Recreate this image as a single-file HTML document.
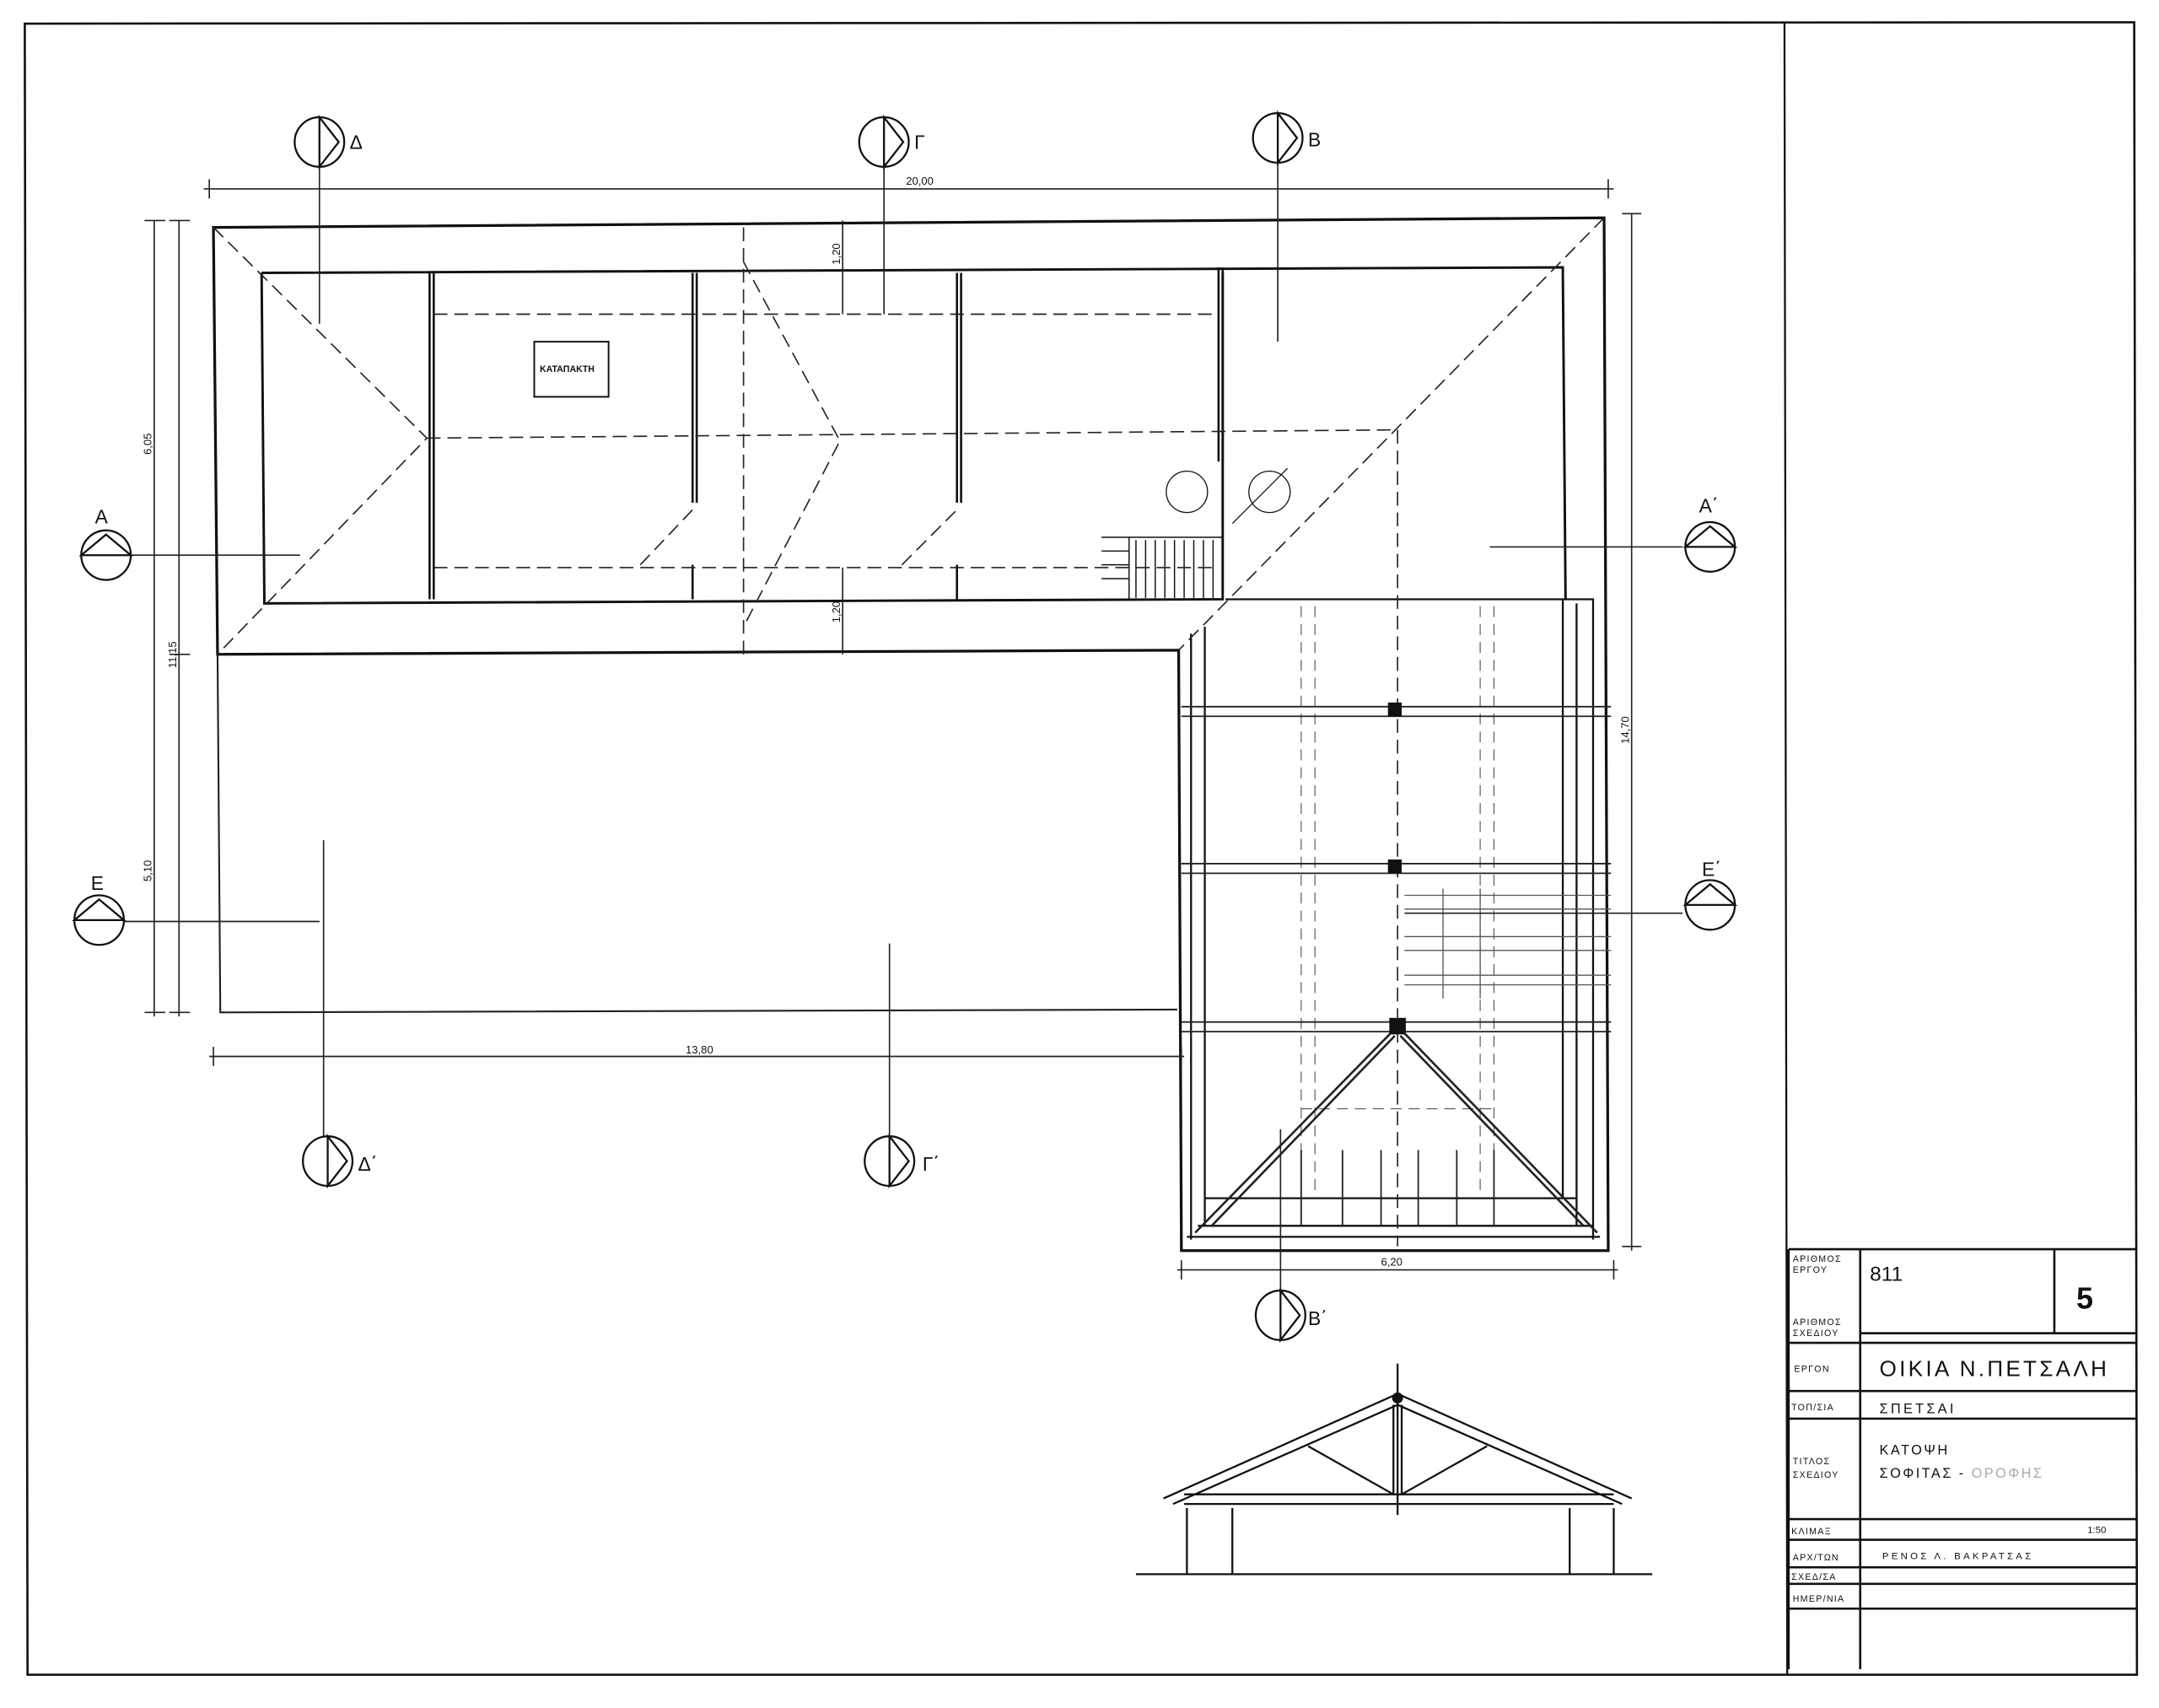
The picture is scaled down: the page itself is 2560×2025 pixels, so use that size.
<!DOCTYPE html>
<html><head><meta charset="utf-8"><style>
html,body{margin:0;padding:0;background:#fff}
svg{display:block}
text{font-family:"Liberation Sans","DejaVu Sans",sans-serif;fill:#111}
</style></head><body>
<svg width="2560" height="2025" viewBox="0 0 1568 1240" xmlns="http://www.w3.org/2000/svg">
<rect width="1568" height="1240" fill="#fff"/>
<g fill="none" stroke="#111" stroke-width="1.4">
<path d="M18 17 L1550 16 L1552 1216 L20 1216 Z" stroke-width="1.6"/>
<line x1="1296" y1="16" x2="1298" y2="1216" stroke-width="1.4"/>
<path d="M1299 907 H1552 M1299 907 V1212 M1351 907 V1212 M1492 907 V968 M1351 968 H1552 M1299 975 H1552 M1299 1010 H1552 M1299 1030 H1552 M1299 1103 H1552 M1299 1118 H1552 M1299 1138 H1552 M1299 1150 H1552 M1299 1168 H1552" stroke-width="1.6"/>

<path d="M155 165 L1165 158 L1168 908 L858 908 L856 472 L158 475 Z" stroke-width="2"/>
<path d="M190 198 L1135 194 L1137 435 M190 198 L192 438 L888 435 L888 198" stroke-width="1.8"/>
<path d="M865 460 V900 M875 455 V890 M890 435 H1157 V900 M1145 438 V890 M1135 435 V870 M875 870 H1145 M870 890 H1157 M862 898 H1162" stroke-width="1.4"/>
<path d="M312 198 V435 M315 198 V435 M503 198 V365 M506 198 V365 M503 410 V435 M695 198 V365 M698 198 V365 M695 410 V435 M885 194 V335 M888 194 V335" stroke-width="1.6"/>
<rect x="388" y="248" width="54" height="40" stroke-width="1.2"/>
<path d="M800 390 H888 V435 H820 V390 M825 392 V434 M832 392 V434 M839 392 V434 M846 392 V434 M853 392 V434 M860 392 V434 M867 392 V434 M874 392 V434 M881 392 V434 M800 400 H820 M800 410 H820 M800 420 H820" stroke-width="0.9"/>
<circle cx="862" cy="357" r="15" stroke-width="0.8"/>
<circle cx="922" cy="357" r="15" stroke-width="0.8"/>
<line x1="895" y1="380" x2="935" y2="340" stroke-width="0.8"/>
</g>
<g fill="none" stroke="#222" stroke-width="1" stroke-dasharray="10 5">
<path d="M155 165 L310 318 L158 475"/>
<path d="M1165 158 L856 472"/>
<path d="M310 318 L1015 312"/>
<path d="M1015 312 V905"/>
<path d="M315 228 H885 M315 412 H885"/>
<path d="M540 165 V480 M540 190 L610 320 L540 455"/>
<path d="M465 410 L503 370 M655 410 L695 370"/>
</g>
<g fill="none" stroke="#555" stroke-width="0.7" stroke-dasharray="8 5">
<path d="M945 440 V870 M955 440 V870 M1075 440 V870 M1085 440 V870"/>
<path d="M945 805 H1085"/>
</g>
<g fill="none" stroke="#222" stroke-width="1.1">
<path d="M858 513 H1170 M858 520 H1170 M858 627 H1170 M858 634 H1170 M858 742 H1170 M858 749 H1170"/>
<path d="M1020 650 H1170 M1020 660 H1170 M1020 680 H1170 M1020 690 H1170 M1020 708 H1170 M1020 715 H1170 M1048 645 V725 M1075 645 V725" stroke="#555" stroke-width="0.8"/>
<path d="M1015 745 L868 895 M1015 745 L1160 895 M1013 752 L880 890 M1017 752 L1150 890" stroke-width="1.6"/>
<path d="M945 835 V890 M975 835 V890 M1003 835 V890 M1030 835 V890 M1058 835 V890 M1085 835 V890"/>
</g>
<g fill="#111"><rect x="1008" y="510" width="10" height="10"/><rect x="1008" y="624" width="10" height="10"/><rect x="1009" y="739" width="12" height="12"/></g>

<g fill="none" stroke="#222" stroke-width="1">
<path d="M148 137 H1172 M152 130 V144 M1168 130 V144"/>
<path d="M112 160 V738 M105 160 H120 M105 735 H120"/>
<path d="M130 160 V738 M123 160 H138 M123 475 H138 M123 735 H138"/>
<path d="M1185 155 V908 M1178 155 H1192 M1178 905 H1192"/>
<path d="M152 767 H860 M155 760 V774 M858 760 V774"/>
<path d="M855 922 H1175 M858 915 V929 M1172 915 V929"/>
<path d="M612 160 V228 M612 412 V475"/>
<path d="M158 475 L160 735 L855 733" stroke-width="1.3"/>
<path d="M232 120 V235 M642 120 V228 M928 118 V248 M95 403 H218 M1082 397 H1222 M90 669 H232 M1020 663 H1222 M235 610 V825 M646 685 V825 M930 820 V937"/>
</g>
<g fill="none" stroke="#111" stroke-width="1.4">
<g transform="translate(232,103)"><circle r="18"/><path d="M0 -18 L14 0 L0 18 Z"/></g>
<g transform="translate(642,103)"><circle r="18"/><path d="M0 -18 L14 0 L0 18 Z"/></g>
<g transform="translate(928,100)"><circle r="18"/><path d="M0 -18 L14 0 L0 18 Z"/></g>
<g transform="translate(238,843)"><circle r="18"/><path d="M0 -18 L14 0 L0 18 Z"/></g>
<g transform="translate(646,843)"><circle r="18"/><path d="M0 -18 L14 0 L0 18 Z"/></g>
<g transform="translate(930,955)"><circle r="18"/><path d="M0 -18 L14 0 L0 18 Z"/></g>
<g transform="translate(77,403)"><circle r="18"/><path d="M-18 0 L0 -15 L18 0 Z"/></g>
<g transform="translate(1242,397)"><circle r="18"/><path d="M-18 0 L0 -15 L18 0 Z"/></g>
<g transform="translate(72,668)"><circle r="18"/><path d="M-18 0 L0 -15 L18 0 Z"/></g>
<g transform="translate(1242,657)"><circle r="18"/><path d="M-18 0 L0 -15 L18 0 Z"/></g>
</g>
<g fill="none" stroke="#111" stroke-width="1.4">
<path d="M845 1088 L1015 1012 L1185 1088 M852 1092 L1015 1020 L1178 1092 M860 1085 H1172 M860 1092 H1172"/>
<path d="M1015 990 V1100 M1012 1020 V1085 M1018 1020 V1085 M950 1050 L1012 1085 M1080 1050 L1018 1085"/>
<path d="M862 1095 V1143 M895 1095 V1143 M1140 1095 V1143 M1172 1095 V1143 M825 1143 H1200"/>
</g>
<circle cx="1015" cy="1015" r="4" fill="#111"/>

<g font-size="14">
<text x="254" y="108">Δ</text><text x="664" y="108">Γ</text><text x="950" y="106">Β</text>
<text x="260" y="850">Δ΄</text><text x="670" y="850">Γ΄</text><text x="950" y="962">Β΄</text>
<text x="69" y="380">Α</text><text x="1234" y="372">Α΄</text>
<text x="66" y="646">Ε</text><text x="1236" y="636">Ε΄</text>
</g>
<g font-size="8">
<text x="658" y="134">20,00</text>
<text x="498" y="765">13,80</text>
<text x="1003" y="919">6,20</text>
<text x="392" y="270" font-size="6.5" font-weight="bold">ΚΑΤΑΠΑΚΤΗ</text>
<text transform="translate(110,330) rotate(-90)">6,05</text>
<text transform="translate(128,485) rotate(-90)">11,15</text>
<text transform="translate(110,640) rotate(-90)">5,10</text>
<text transform="translate(1183,540) rotate(-90)">14,70</text>
<text transform="translate(610,192) rotate(-90)">1,20</text>
<text transform="translate(610,452) rotate(-90)">1,20</text>
</g>
<g font-size="6.5" letter-spacing="0.8">
<text x="1302" y="916">ΑΡΙΘΜΟΣ</text><text x="1302" y="924">ΕΡΓΟΥ</text>
<text x="1302" y="962">ΑΡΙΘΜΟΣ</text><text x="1302" y="970">ΣΧΕΔΙΟΥ</text>
<text x="1303" y="996">ΕΡΓΟΝ</text>
<text x="1301" y="1024">ΤΟΠ/ΣΙΑ</text>
<text x="1302" y="1063">ΤΙΤΛΟΣ</text><text x="1302" y="1073">ΣΧΕΔΙΟΥ</text>
<text x="1301" y="1114">ΚΛΙΜΑΞ</text>
<text x="1302" y="1133">ΑΡΧ/ΤΩΝ</text>
<text x="1301" y="1147">ΣΧΕΔ/ΣΑ</text>
<text x="1302" y="1163">ΗΜΕΡ/ΝΙΑ</text>
</g>
<text x="1358" y="930" font-size="15">811</text>
<text x="1508" y="950" font-size="22" font-weight="bold" font-family="Liberation Serif,serif">5</text>
<text x="1365" y="999" font-size="16" letter-spacing="2">ΟΙΚΙΑ  Ν.ΠΕΤΣΑΛΗ</text>
<text x="1365" y="1026" font-size="10" letter-spacing="2">ΣΠΕΤΣΑΙ</text>
<text x="1365" y="1056" font-size="10" letter-spacing="1.5">ΚΑΤΟΨΗ</text>
<text x="1365" y="1073" font-size="10" letter-spacing="1.5">ΣΟΦΙΤΑΣ  -  <tspan fill="#aaa">ΟΡΟΦΗΣ</tspan></text>
<text x="1516" y="1113" font-size="7">1:50</text>
<text x="1367" y="1132" font-size="7" letter-spacing="2">ΡΕΝΟΣ    Λ.   ΒΑΚΡΑΤΣΑΣ</text>
</svg>
</body></html>
